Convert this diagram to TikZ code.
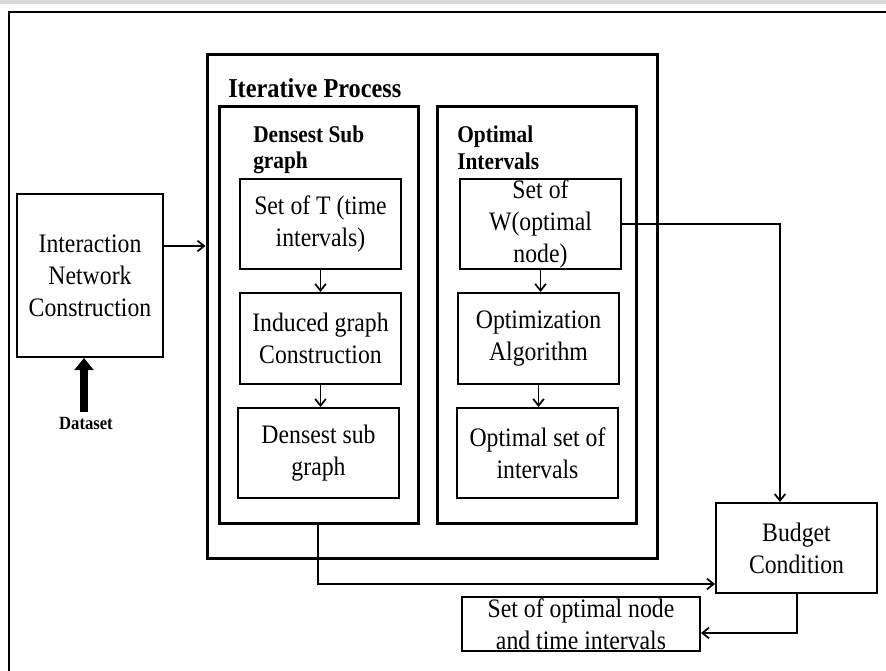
\documentclass[tikz,border=0pt]{standalone}
\usepackage{fontspec}
\setmainfont[FakeStretch=0.89]{Liberation Serif}
\usetikzlibrary{arrows.meta,fit}
\begin{document}
\begin{tikzpicture}[x=0.75pt,y=-0.75pt,
  box/.style={draw, line width=1.5pt, inner sep=0pt, rectangle},
  panel/.style={draw, line width=2.25pt, inner sep=0pt, rectangle},
  txt/.style={font=\fontsize{20}{24}\selectfont, align=center, inner sep=0pt},
  ttl/.style={font=\bfseries\fontsize{18}{20}\selectfont, anchor=base west, inner sep=0pt},
  arr/.style={line width=1.3pt, -{Straight Barb[length=5pt,width=8pt]}},
  frame/.style={line width=1.5pt}]
\useasboundingbox (0,0) rectangle (886,671);
\fill[gray!30] (0,0) rectangle (886,4);
\draw[frame] (9,671) -- (9,12) -- (886,12);

% outer containers
\node[panel, fit={(207,54) (657,558)}] (iter) {};
\node[ttl, font=\bfseries\fontsize{20.5}{22}\selectfont] (itert) at (228,97) {Iterative Process};
\node[panel, fit={(219,106) (418,523)}] (densp) {};
\node[ttl] (denst1) at (253,142) {Densest Sub};
\node[ttl] (denst2) at (253,168) {graph};
\node[panel, fit={(437,106) (636,523)}] (optp) {};
\node[ttl] (optt1) at (457,142) {Optimal};
\node[ttl] (optt2) at (457,169) {Intervals};

% boxes
\node[box, fit={(17,194) (163,357)}, label={[txt]center:{Interaction\\Network\\Construction}}] (inter) {};
\node[box, fit={(240,179) (401,269)}, label={[txt]center:{Set of T (time\\intervals)}}] (setT) {};
\node[box, fit={(240,293) (401,384)}, label={[txt]center:{Induced graph\\Construction}}] (induced) {};
\node[box, fit={(238,408) (399,498)}, label={[txt]center:{Densest sub\\graph}}] (densest) {};
\node[box, fit={(460,179) (621,269)}, label={[txt]center:{Set of\\W(optimal\\node)}}] (setW) {};
\node[box, fit={(458,293) (619,384)}, label={[txt]center:{Optimization\\Algorithm}}] (optim) {};
\node[box, fit={(457,408) (618,498)}, label={[txt]center:{Optimal set of\\intervals}}] (optset) {};
\node[box, fit={(716,503) (877,593)}, label={[txt]center:{Budget\\Condition}}] (budget) {};
\node[box, fit={(462,597) (700,651)}, label={[txt]center:{Set of optimal node\\and time intervals}}] (result) {};

\node[font=\bfseries\fontsize{14}{16}\selectfont, inner sep=0pt] (data) at (86,423) {Dataset};

% connectors
\coordinate (a1) at (163,246);
\draw[arr] (inter.east |- a1) -- (iter.west |- a1);
\coordinate (d1) at (84,412);
\draw[line width=6pt, -{Triangle[length=9pt,width=14pt]}] (d1) -- (d1 |- inter.south);
\draw[arr] (setT.south) -- (setT.south |- induced.north);
\draw[arr] (induced.south) -- (induced.south |- densest.north);
\draw[arr] (setW.south) -- (setW.south |- optim.north);
\draw[arr] (optim.south) -- (optim.south |- optset.north);
\coordinate (c1) at (780,224);
\draw[arr] (setW.east |- c1) -- (c1) -- (c1 |- budget.north);
\coordinate (c2) at (318,584);
\draw[arr] (densp.south -| c2) -- (c2) -- (budget.west |- c2);
\coordinate (c3) at (797,633);
\draw[arr] (budget.south -| c3) -- (c3) -- (result.east |- c3);
\end{tikzpicture}
\end{document}
